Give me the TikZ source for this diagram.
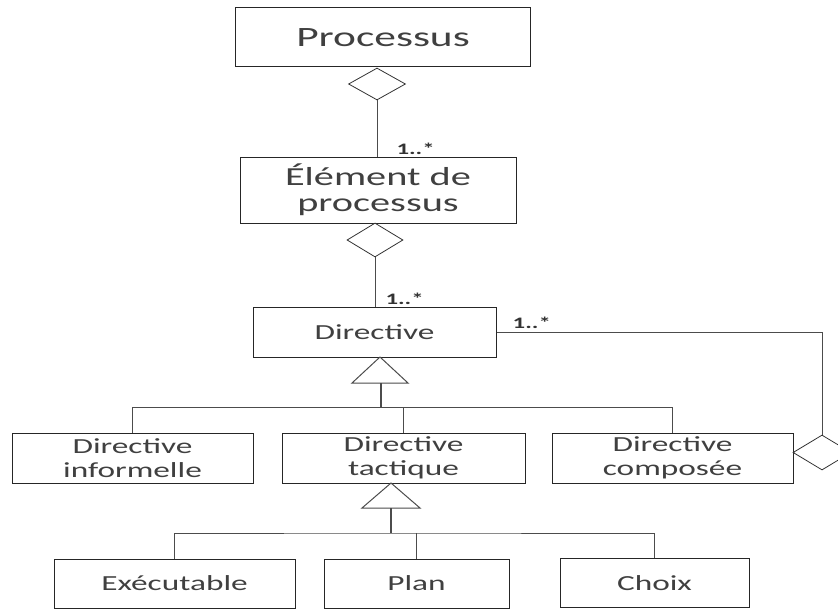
\documentclass[tikz,border=0pt]{standalone}
\usepackage{fontspec}
\setmainfont[FakeStretch=1.55]{Carlito}
\usepackage{tikz}
\usetikzlibrary{shapes.geometric}

\tikzset{
	classe/.style = {draw = black!85, line width = 1pt, text = black!75, inner sep = 0pt, align = center, minimum height = 50pt},
	losange/.style = {diamond, draw = black!80, line width = 0.8pt, inner sep = 0pt, fill = white},
	lien/.style = {draw = black!70, line width = 1pt},
	mult/.style = {font = \fontsize{16}{16}\selectfont\bfseries, text = black!80, inner sep = 1pt}
}

\begin{document}
\begin{tikzpicture}[x = 1pt, y = -1pt]
		\useasboundingbox (0,0) rectangle (838,610);
		\def\hb{21.5};
		
		\node [classe, minimum width = 295pt, minimum height = 59pt, font = \fontsize{28}{30}\selectfont] (processus) at (383,37.5) {Processus};
		\node [classe, minimum width = 276pt, minimum height = 66pt, font = \fontsize{26}{26}\selectfont] (element) at (378,190) {Élément de\\processus};
		\node [classe, minimum width = 243pt, font = \fontsize{\hb}{24}\selectfont] (directive) at (374.5,332) {Directive};
		
		\node [classe, minimum width = 241pt, font = \fontsize{\hb}{24}\selectfont] (informelle) at (132.5,458) {Directive\\informelle};
		\node [classe, minimum width = 243pt, font = \fontsize{\hb}{24}\selectfont] (tactique) at (403.5,458) {Directive\\tactique};
		\node [classe, minimum width = 241pt, font = \fontsize{\hb}{24}\selectfont] (composee) at (672.5,458) {Directive\\composée};
		
		\node [classe, minimum width = 241pt, minimum height = 49pt, font = \fontsize{\hb}{24}\selectfont] (executable) at (174.5,583.5) {Exécutable};
		\node [classe, minimum width = 185pt, minimum height = 49pt, font = \fontsize{\hb}{24}\selectfont] (plan) at (416.5,583.5) {Plan};
		\node [classe, minimum width = 189pt, minimum height = 49pt, font = \fontsize{\hb}{24}\selectfont] (choix) at (654.5,583) {Choix};
		
		\node [losange, minimum width = 57pt, minimum height = 32pt] (losange processus) at (377,84) {};
		\node [losange, minimum width = 56pt, minimum height = 34pt] (losange element) at (375,240) {};
		\node [losange, minimum width = 58pt, minimum height = 35pt] (losange composee) at (822,452.5) {};
		
		\draw [lien] (losange processus.south) -- (losange processus.south |- element.north) node [mult, above right, xshift = 18pt] {1..*};
		\draw [lien] (losange element.south) -- (losange element.south |- directive.north) node [mult, above right, xshift = 9pt] {1..*};
		\draw [lien] (directive.east) -- (losange composee.north |- directive.east) -- (losange composee.north);
		\node [mult, above right, xshift = 15pt, yshift = 2pt] at (directive.east) {1..*};
		
		\coordinate (sommet directive) at (380,357);
		\coordinate (base directive) at (381,383);
		\coordinate (bus directive) at (381,407.5);
		\draw [lien, fill = white] (sommet directive) -- ++(28,26) -- ++(-56,0) -- cycle;
		\draw [lien, line width = 1.6pt] (base directive) -- (bus directive);
		\draw [lien] (informelle.north) |- (bus directive) -| (composee.north);
		\draw [lien] (tactique.north) -- (tactique.north |- bus directive);
		
		\coordinate (sommet tactique) at (391,483);
		\coordinate (base tactique) at (391,508);
		\coordinate (bus tactique) at (391,533);
		\draw [lien, fill = white] (sommet tactique) -- ++(29,25) -- ++(-58,0) -- cycle;
		\draw [lien, line width = 1.6pt] (base tactique) -- (bus tactique);
		\draw [lien] (executable.north) |- (bus tactique) -| (choix.north);
		\draw [lien] (plan.north) -- (plan.north |- bus tactique);
	\end{tikzpicture}
\end{document}
